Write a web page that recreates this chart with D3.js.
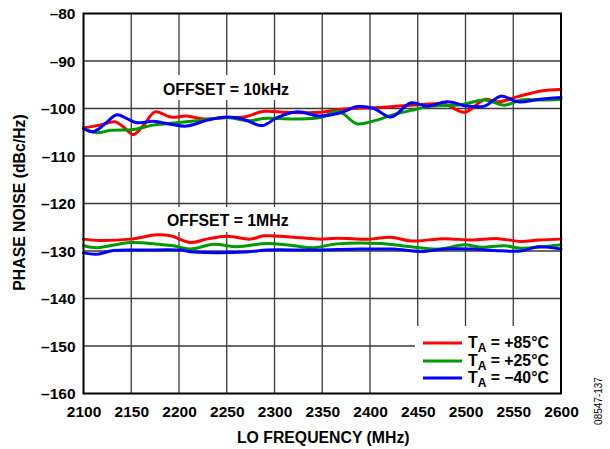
<!DOCTYPE html>
<html><head><meta charset="utf-8">
<script src="https://cdn.jsdelivr.net/npm/d3@7"></script>
<style>body{margin:0;background:#fff}svg{display:block}text{font-family:"Liberation Sans",Arial,sans-serif}</style>
</head><body><svg id="c" width="610" height="449"></svg>
<script>
const xTicks = [2100,2150,2200,2250,2300,2350,2400,2450,2500,2550,2600];
const yTicks = [-80,-90,-100,-110,-120,-130,-140,-150,-160];
const seriesNames = ["+85°C","+25°C","\u221240°C"];
const seriesColors = ["#ff0000","#009a00","#0000ff"];

// OFFSET = 10kHz
const red10kF = [2100,2117,2133,2142,2152,2163,2175,2191,2208,2226,2250,2268,2289,2313,2348,2373,2408,2443,2478,2499,2520,2534,2555,2579,2600];
const red10kV = [-104.1,-103.5,-102.8,-103.9,-105.5,-103.5,-100.7,-101.8,-101.6,-102.2,-101.9,-101.8,-100.6,-100.8,-100.8,-100.1,-99.8,-99.3,-99.1,-100.8,-98.1,-98.6,-97.5,-96.3,-96.0];
const green10kF = [2100,2114,2128,2152,2173,2198,2222,2250,2274,2288,2320,2348,2365,2372,2386,2404,2425,2443,2464,2496,2520,2541,2558,2579,2600];
const green10kV = [-104.2,-105.1,-104.6,-104.4,-103.5,-103.0,-102.5,-101.9,-102.6,-102.1,-102.2,-101.9,-100.6,-101.1,-103.2,-102.6,-101.3,-100.4,-99.5,-99.2,-98.2,-99.3,-98.2,-98.2,-98.1];
const blue10kF = [2100,2110,2121,2135,2145,2156,2173,2191,2208,2229,2250,2268,2287,2303,2324,2348,2369,2387,2404,2422,2443,2460,2481,2502,2520,2537,2555,2576,2600];
const blue10kV = [-104.2,-104.9,-103.5,-101.3,-102.1,-103.0,-102.7,-103.3,-103.7,-102.5,-101.8,-102.3,-103.6,-101.9,-100.7,-101.6,-100.9,-99.6,-100.0,-101.8,-98.8,-99.5,-98.6,-99.5,-99.5,-97.4,-98.6,-98.1,-97.7];

// OFFSET = 1MHz
const red1mF = [2100,2117,2149,2177,2191,2212,2229,2250,2275,2289,2320,2348,2365,2400,2422,2443,2478,2506,2534,2558,2576,2600];
const red1mV = [-127.5,-127.8,-127.5,-126.6,-126.8,-128.2,-127.5,-126.9,-127.5,-126.8,-127.1,-127.5,-127.3,-127.5,-127.1,-127.9,-127.4,-127.7,-127.4,-128.0,-127.7,-127.5];
const green1mF = [2100,2114,2149,2180,2194,2212,2236,2261,2292,2320,2341,2365,2411,2443,2471,2499,2516,2541,2558,2600];
const green1mV = [-128.9,-129.3,-128.2,-128.6,-128.9,-129.6,-128.6,-129.1,-128.4,-128.9,-129.3,-128.5,-128.4,-129.1,-129.6,-128.7,-129.2,-128.9,-129.4,-128.7];
const blue1mF = [2100,2114,2131,2163,2201,2215,2271,2292,2341,2390,2425,2453,2478,2506,2530,2558,2576,2600];
const blue1mV = [-130.4,-130.7,-129.9,-129.8,-129.8,-130.2,-130.2,-129.8,-129.8,-129.6,-129.6,-130.1,-129.6,-129.6,-129.9,-130.0,-129.1,-129.6];

const series = [
  {F:red10kF,V:red10kV,c:0},{F:red1mF,V:red1mV,c:0},
  {F:green10kF,V:green10kV,c:1},{F:green1mF,V:green1mV,c:1},
  {F:blue10kF,V:blue10kV,c:2},{F:blue1mF,V:blue1mV,c:2}
];

const L=83.5,R=561,T=13.5,B=393.5;
const FS=15.5;
const svg=d3.select("#c");
const x=d3.scaleLinear().domain([2100,2600]).range([L,R]);
const y=d3.scaleLinear().domain([-160,-80]).range([B,T]);
const gc="#3a3a3a";

// grid
svg.append("g").selectAll("line").data(xTicks.slice(1,-1)).join("line")
  .attr("x1",d=>x(d)).attr("x2",d=>x(d)).attr("y1",T).attr("y2",B)
  .attr("stroke",gc).attr("stroke-width",1.3);
svg.append("g").selectAll("line").data(yTicks.slice(1,-1)).join("line")
  .attr("y1",d=>y(d)).attr("y2",d=>y(d)).attr("x1",L).attr("x2",R)
  .attr("stroke",gc).attr("stroke-width",1.3);

// label backgrounds
svg.append("rect").attr("x",160).attr("y",75).attr("width",135).attr("height",25).attr("fill","#fff");
svg.append("rect").attr("x",164).attr("y",207).attr("width",130).attr("height",25).attr("fill","#fff");

// legend box background
svg.append("rect").attr("x",415).attr("y",326).attr("width",R-415).attr("height",B-326).attr("fill","#fff");

// lines
const line=d3.line().x(d=>x(d[0])).y(d=>y(d[1])).curve(d3.curveCatmullRom.alpha(0.5));
series.forEach(s=>{
  svg.append("path").datum(s.F.map((f,i)=>[f,s.V[i]]))
    .attr("d",line).attr("fill","none").attr("stroke",seriesColors[s.c])
    .attr("stroke-width",3).attr("stroke-linejoin","round").attr("stroke-linecap","round");
});

// frame
svg.append("rect").attr("x",L).attr("y",T).attr("width",R-L).attr("height",B-T)
  .attr("fill","none").attr("stroke","#000").attr("stroke-width",2);

// axes
const xAxis=d3.axisBottom(x).tickValues(xTicks).tickSize(0).tickPadding(0).tickFormat(d3.format("d"));
const gx=svg.append("g").attr("transform",`translate(0,${B})`).call(xAxis);
gx.select(".domain").remove();
gx.selectAll("text").attr("dy",null).attr("y",23.5).attr("font-size",FS).attr("font-weight","bold").attr("fill","#000");

const yAxis=d3.axisLeft(y).tickValues(yTicks).tickSize(0).tickPadding(0).tickFormat(d=>"\u2013"+Math.abs(d));
const gy=svg.append("g").attr("transform",`translate(${L},0)`).call(yAxis);
gy.select(".domain").remove();
gy.selectAll("text").attr("x",-8).attr("dy","0.35em").attr("font-size",FS).attr("font-weight","bold").attr("fill","#000");

// titles
svg.append("text").attr("x",(L+R)/2+1).attr("y",443).attr("text-anchor","middle")
  .attr("font-size",FS+0.3).attr("font-weight","bold").text("LO FREQUENCY (MHz)");
svg.append("text").attr("transform",`translate(25,${(T+B)/2-1}) rotate(-90)`).attr("text-anchor","middle")
  .attr("font-size",FS+0.3).attr("font-weight","bold").text("PHASE NOISE (dBc/Hz)");
svg.append("text").attr("transform",`translate(602,401) rotate(-90)`).attr("text-anchor","middle")
  .attr("font-size",10).text("08547-137");

// annotations
svg.append("text").attr("x",163).attr("y",95).attr("font-size",FS+0.3).attr("font-weight","bold").text("OFFSET = 10kHz");
svg.append("text").attr("x",167).attr("y",226).attr("font-size",FS+0.3).attr("font-weight","bold").text("OFFSET = 1MHz");

// legend
const ly=[343,361,378];
seriesNames.forEach((n,i)=>{
  svg.append("line").attr("x1",423).attr("x2",462).attr("y1",ly[i]).attr("y2",ly[i])
    .attr("stroke",seriesColors[i]).attr("stroke-width",3);
  const t=svg.append("text").attr("x",468).attr("y",ly[i]+5).attr("font-size",FS+0.3).attr("font-weight","bold");
  t.append("tspan").text("T");
  t.append("tspan").attr("font-size",12).attr("dy",4).text("A");
  t.append("tspan").attr("dy",-4).text(" = "+n);
});
</script></body></html>
